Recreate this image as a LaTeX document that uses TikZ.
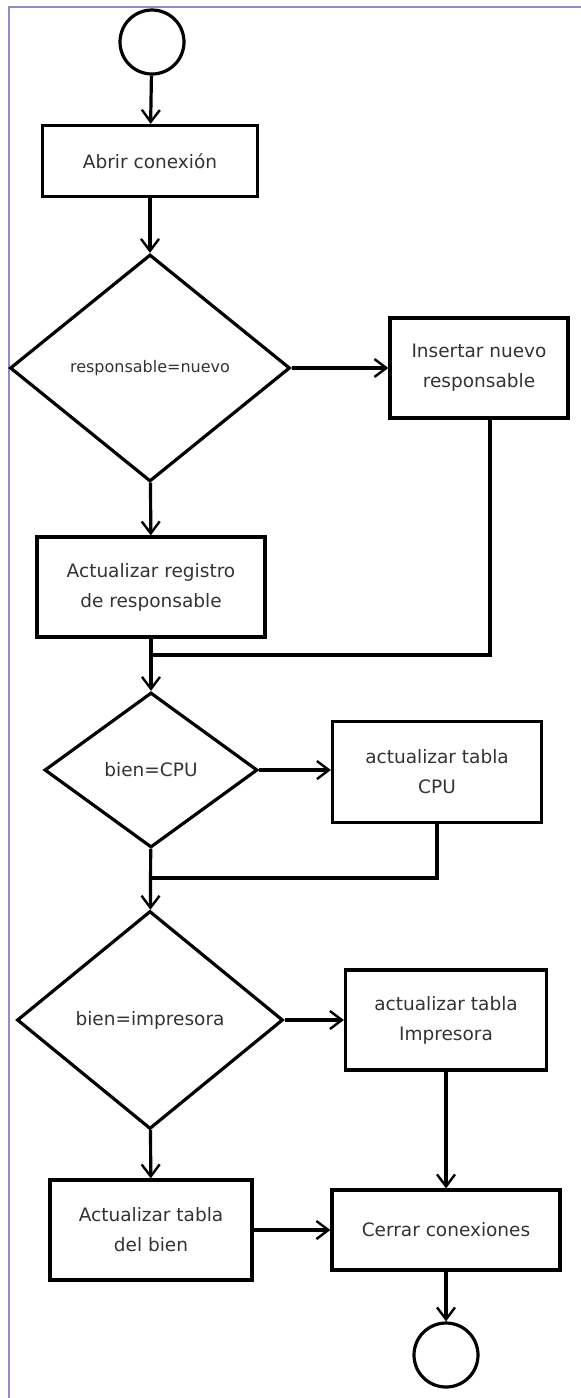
\documentclass[tikz,border=0pt]{standalone}
\usepackage{fontspec}
\setmainfont{DejaVu Sans}
\usetikzlibrary{shapes.geometric,arrows.meta}
\definecolor{marco}{HTML}{9A86C8}
\begin{document}
\begin{tikzpicture}[x=1pt,y=-1pt,
  line width=3.2pt,
  caja/.style={draw, rectangle, align=center, font=\fontsize{18.5}{30}\selectfont, text=black!80},
  decision/.style={draw, diamond, inner sep=0pt, align=center, font=\fontsize{18.5}{30}\selectfont, text=black!80},
  terminal/.style={draw, circle, minimum size=64pt, inner sep=0pt},
  flecha/.style={-{Straight Barb[length=12pt,width=18pt,line width=2.4pt]}}]
\useasboundingbox (0,0) rectangle (581,1398);
\draw[marco, line width=2pt] (9,1398) -- (9,7) -- (581,7);

\node[terminal] (ini) at (152,42) {};
\node[caja, minimum width=215pt, minimum height=71pt] (abrir) at (150,161) {Abrir conexión};
\node[decision, minimum width=280pt, minimum height=227pt, font=\fontsize{16}{20}\selectfont] (resp) at (150,368) {responsable=nuevo};
\node[caja, minimum width=178pt, minimum height=100pt] (insertar) at (479,368) {Insertar nuevo\\responsable};
\node[caja, minimum width=228pt, minimum height=100pt] (actreg) at (151,587) {Actualizar registro\\de responsable};
\node[decision, minimum width=213pt, minimum height=155pt] (cpu) at (151,770) {bien=CPU};
\node[caja, minimum width=209pt, minimum height=101pt] (tcpu) at (437,772) {actualizar tabla\\CPU};
\node[decision, minimum width=266pt, minimum height=218pt] (imp) at (150,1020) {bien=impresora};
\node[caja, minimum width=201pt, minimum height=100pt] (timp) at (446,1020) {actualizar tabla\\Impresora};
\node[caja, minimum width=202pt, minimum height=100pt] (bien) at (151,1230) {Actualizar tabla\\del bien};
\node[caja, minimum width=228pt, minimum height=80pt] (cerrar) at (446,1230) {Cerrar conexiones};
\node[terminal] (fin) at (446,1355) {};

\coordinate (j1) at (151,655);
\coordinate (j2) at (151,878);

\draw[flecha] (ini) -- (abrir);
\draw[flecha] (abrir) -- (resp);
\draw[flecha] (resp) -- (insertar);
\draw[flecha] (resp) -- (actreg);
\draw ([xshift=11pt]insertar.south) |- (j1);
\draw[flecha] (actreg) -- (cpu);
\draw[flecha] (cpu) -- (tcpu.west |- cpu);
\draw (tcpu) |- (j2);
\draw[flecha] (cpu) -- (imp);
\draw[flecha] (imp) -- (timp);
\draw[flecha] (timp) -- (cerrar);
\draw[flecha] (imp) -- (bien);
\draw[flecha] (bien) -- (cerrar);
\draw[flecha] (cerrar) -- (fin);
\end{tikzpicture}
\end{document}
